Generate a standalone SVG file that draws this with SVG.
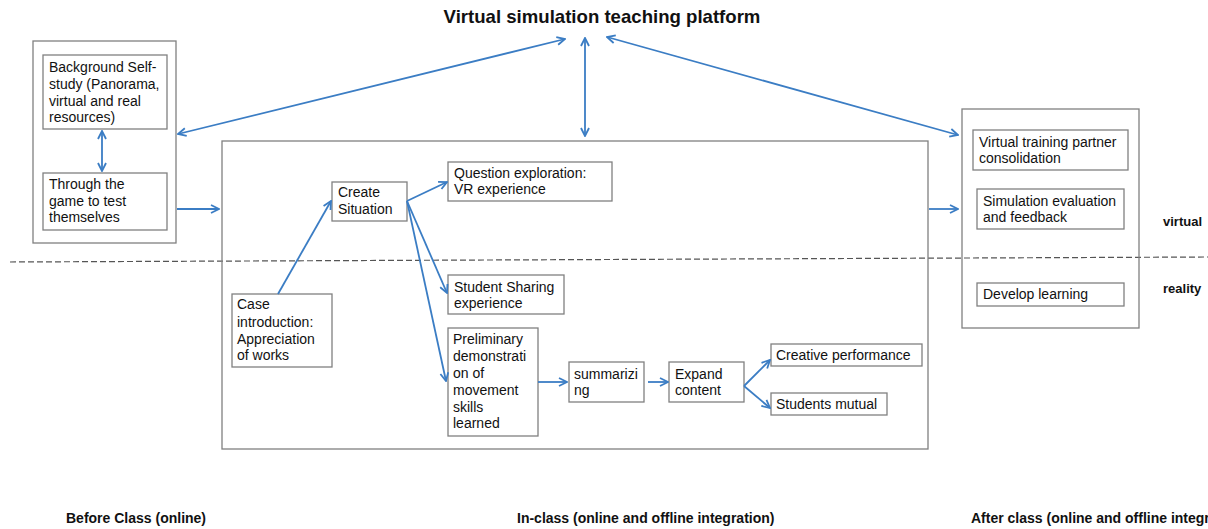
<svg xmlns="http://www.w3.org/2000/svg" width="1208" height="529" viewBox="0 0 1208 529">
  <style>
    .box { fill: #fff; stroke: #808080; stroke-width: 1.3; }
    .frame { fill: none; stroke: #808080; stroke-width: 1.3; }
    .t { font-family: "Liberation Sans", Arial, sans-serif; font-size: 14px; fill: #111; }
    .b { font-family: "Liberation Sans", Arial, sans-serif; font-weight: bold; fill: #111; }
    .link { fill: none; stroke: #3b7dc4; stroke-width: 1.8; marker-end: url(#arr); }
    .both { marker-start: url(#arrS); }
  </style>
  <defs>
    <marker id="arr" viewBox="0 0 10 10" refX="9" refY="5" markerWidth="10" markerHeight="10" markerUnits="userSpaceOnUse" orient="auto">
      <path d="M1,1 L9,5 L1,9" fill="none" stroke="#3b7dc4" stroke-width="1.8"/>
    </marker>
    <marker id="arrS" viewBox="0 0 10 10" refX="1" refY="5" markerWidth="10" markerHeight="10" markerUnits="userSpaceOnUse" orient="auto">
      <path d="M9,1 L1,5 L9,9" fill="none" stroke="#3b7dc4" stroke-width="1.8"/>
    </marker>
  </defs>

  <rect width="1208" height="529" fill="#fff"/>

  <!-- title and side labels -->
  <text class="b" x="602" y="23" font-size="18.6" text-anchor="middle">Virtual simulation teaching platform</text>
  <text class="b" x="1163" y="226" font-size="13">virtual</text>
  <text class="b" x="1163" y="293" font-size="13">reality</text>
  <text class="b" x="66" y="523" font-size="14">Before Class (online)</text>
  <text class="b" x="517" y="523" font-size="14">In-class (online and offline integration)</text>
  <text class="b" x="971" y="523" font-size="14">After class (online and offline integration)</text>

  <!-- virtual / reality divider -->
  <line x1="10" y1="262" x2="1208" y2="257" stroke="#555" stroke-width="1.2" stroke-dasharray="6 3"/>

  <!-- phase frames -->
  <g id="before-class">
    <rect class="frame" x="33" y="41" width="143" height="202"/>
  </g>
  <g id="in-class">
    <rect class="frame" x="222" y="141" width="706" height="308"/>
  </g>
  <g id="after-class">
    <rect class="frame" x="962" y="109" width="177" height="219"/>
  </g>

  <!-- before class -->
  <g id="self-study">
    <rect class="box" x="43" y="55" width="124" height="74"/>
    <text class="t" x="49" y="72">Background Self-</text>
    <text class="t" x="49" y="89">study (Panorama,</text>
    <text class="t" x="49" y="106">virtual and real</text>
    <text class="t" x="49" y="122">resources)</text>
  </g>
  <g id="game-test">
    <rect class="box" x="43" y="173" width="124" height="57"/>
    <text class="t" x="49" y="189">Through the</text>
    <text class="t" x="49" y="206">game to test</text>
    <text class="t" x="49" y="222">themselves</text>
  </g>

  <!-- in class -->
  <g id="case-intro">
    <rect class="box" x="232" y="294" width="100" height="73"/>
    <text class="t" x="237" y="309">Case</text>
    <text class="t" x="237" y="327">introduction:</text>
    <text class="t" x="237" y="344">Appreciation</text>
    <text class="t" x="237" y="360">of works</text>
  </g>
  <g id="create-situation">
    <rect class="box" x="332" y="182" width="75" height="39"/>
    <text class="t" x="338" y="197">Create</text>
    <text class="t" x="338" y="214">Situation</text>
  </g>
  <g id="question-exploration">
    <rect class="box" x="448" y="162" width="164" height="39"/>
    <text class="t" x="454" y="178">Question exploration:</text>
    <text class="t" x="454" y="194">VR experience</text>
  </g>
  <g id="student-sharing">
    <rect class="box" x="448" y="275" width="116" height="39"/>
    <text class="t" x="454" y="292">Student Sharing</text>
    <text class="t" x="454" y="308">experience</text>
  </g>
  <g id="preliminary-demo">
    <rect class="box" x="448" y="328" width="90" height="108"/>
    <text class="t" x="453" y="344">Preliminary</text>
    <text class="t" x="453" y="361">demonstrati</text>
    <text class="t" x="453" y="378">on of</text>
    <text class="t" x="453" y="395">movement</text>
    <text class="t" x="453" y="412">skills</text>
    <text class="t" x="453" y="428">learned</text>
  </g>
  <g id="summarizing">
    <rect class="box" x="569" y="362" width="75" height="40"/>
    <text class="t" x="574" y="379">summarizi</text>
    <text class="t" x="574" y="395">ng</text>
  </g>
  <g id="expand-content">
    <rect class="box" x="669" y="362" width="75" height="40"/>
    <text class="t" x="675" y="379">Expand</text>
    <text class="t" x="675" y="395">content</text>
  </g>
  <g id="creative-performance">
    <rect class="box" x="771" y="344" width="151" height="22"/>
    <text class="t" x="776" y="360">Creative performance</text>
  </g>
  <g id="students-mutual">
    <rect class="box" x="771" y="393" width="116" height="22"/>
    <text class="t" x="776" y="409">Students mutual</text>
  </g>

  <!-- after class -->
  <g id="virtual-partner">
    <rect class="box" x="973" y="130" width="155" height="40"/>
    <text class="t" x="979" y="147">Virtual training partner</text>
    <text class="t" x="979" y="163">consolidation</text>
  </g>
  <g id="simulation-feedback">
    <rect class="box" x="977" y="189" width="147" height="40"/>
    <text class="t" x="983" y="206">Simulation evaluation</text>
    <text class="t" x="983" y="222">and feedback</text>
  </g>
  <g id="develop-learning">
    <rect class="box" x="977" y="283" width="147" height="23"/>
    <text class="t" x="983" y="299">Develop learning</text>
  </g>

  <!-- connectors -->
  <g id="connectors">
    <line class="link both" x1="178" y1="134" x2="565" y2="39"/>
    <line class="link both" x1="585" y1="38" x2="585" y2="136"/>
    <line class="link both" x1="607" y1="37" x2="958" y2="135"/>
    <line class="link both" x1="102" y1="131" x2="102" y2="171"/>
    <line class="link" x1="177" y1="209" x2="219" y2="209"/>
    <line class="link" x1="929" y1="209" x2="958" y2="209"/>
    <line class="link" x1="278" y1="294" x2="331" y2="201"/>
    <line class="link" x1="407" y1="201" x2="447" y2="182"/>
    <line class="link" x1="407" y1="201" x2="447" y2="293"/>
    <line class="link" x1="407" y1="201" x2="446" y2="381"/>
    <line class="link" x1="538" y1="382" x2="567" y2="382"/>
    <line class="link" x1="648" y1="382" x2="668" y2="382"/>
    <line class="link" x1="744" y1="386" x2="770" y2="360"/>
    <line class="link" x1="744" y1="386" x2="770" y2="408"/>
  </g>
</svg>
